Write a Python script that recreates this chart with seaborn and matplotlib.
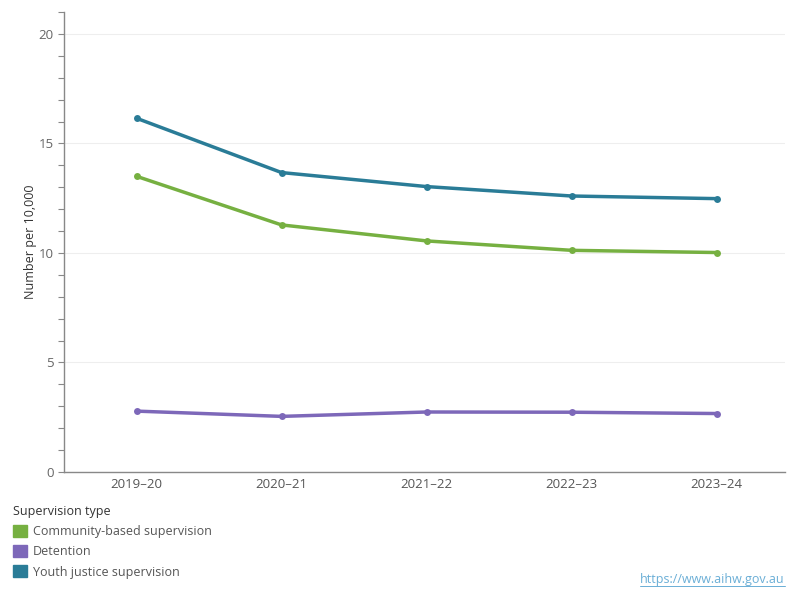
import matplotlib
matplotlib.use("Agg")
import matplotlib.pyplot as plt
import matplotlib.patches as mpatches
from matplotlib.ticker import MultipleLocator
import seaborn as sns
import pandas as pd

years = ["2019–20", "2020–21", "2021–22", "2022–23", "2023–24"]
community = [13.5, 11.28, 10.55, 10.12, 10.02]
detention = [2.78, 2.54, 2.74, 2.73, 2.67]
youth = [16.15, 13.67, 13.03, 12.6, 12.48]

series_names = ["Community-based supervision", "Detention", "Youth justice supervision"]
colors = ["#76b041", "#7d68b9", "#2a7c97"]

rows = []
for name, vals in zip(series_names, [community, detention, youth]):
    for i, (y, v) in enumerate(zip(years, vals)):
        rows.append({"idx": i, "Year": y, "Value": v, "Supervision type": name})
df = pd.DataFrame(rows)

sns.set_style("white")
plt.rcParams['font.family'] = ['Open Sans', 'DejaVu Sans']

fig = plt.figure(figsize=(8, 6), dpi=100)
ax = fig.add_axes([0.08, 0.2133, 0.901, 0.7667])

sns.lineplot(data=df, x="idx", y="Value", hue="Supervision type",
             palette=dict(zip(series_names, colors)), marker="o",
             markersize=5, markeredgewidth=0, linewidth=2.5, ax=ax, legend=False)

ax.set_xlim(-0.5, 4.47)
ax.set_ylim(0, 21)
ax.set_xticks(range(len(years)))
ax.set_xticklabels(years)
ax.yaxis.set_major_locator(MultipleLocator(5))
ax.yaxis.set_minor_locator(MultipleLocator(1))
ax.grid(axis="y", which="major", color="#eeeeee", linewidth=0.8)
ax.set_axisbelow(True)
for s in ["top", "right"]:
    ax.spines[s].set_visible(False)
for s in ["left", "bottom"]:
    ax.spines[s].set_color("#888888")
    ax.spines[s].set_linewidth(1)
ax.tick_params(axis="y", which="both", left=True, color="#888888", labelsize=9.5,
               labelcolor="#666666", length=4, width=0.8)
ax.tick_params(axis="x", bottom=False, labelsize=9.5, labelcolor="#555555", pad=1)
ax.set_xlabel("")
ax.set_ylabel("Number per 10,000", fontsize=9, color="#333333", labelpad=1)

handles = [mpatches.Patch(color=c, label=n) for n, c in zip(series_names, colors)]
leg = fig.legend(handles=handles, title="Supervision type", loc="upper left",
                 bbox_to_anchor=(0.016, 0.158), frameon=False, fontsize=9,
                 title_fontsize=9, handlelength=1.1, handleheight=1.1,
                 handletextpad=0.5, labelspacing=0.55, alignment="left",
                 borderpad=0, borderaxespad=0)
for t in leg.get_texts():
    t.set_color("#555555")
leg.get_title().set_color("#333333")

fig.text(0.981, 0.035, "https://www.aihw.gov.au", ha="right", va="center",
         fontsize=9, color="#6aaed6")
fig.add_artist(plt.Line2D([0.8, 0.981], [0.024, 0.024], color="#6aaed6", linewidth=0.7))

fig.savefig("out.png", dpi=100)
